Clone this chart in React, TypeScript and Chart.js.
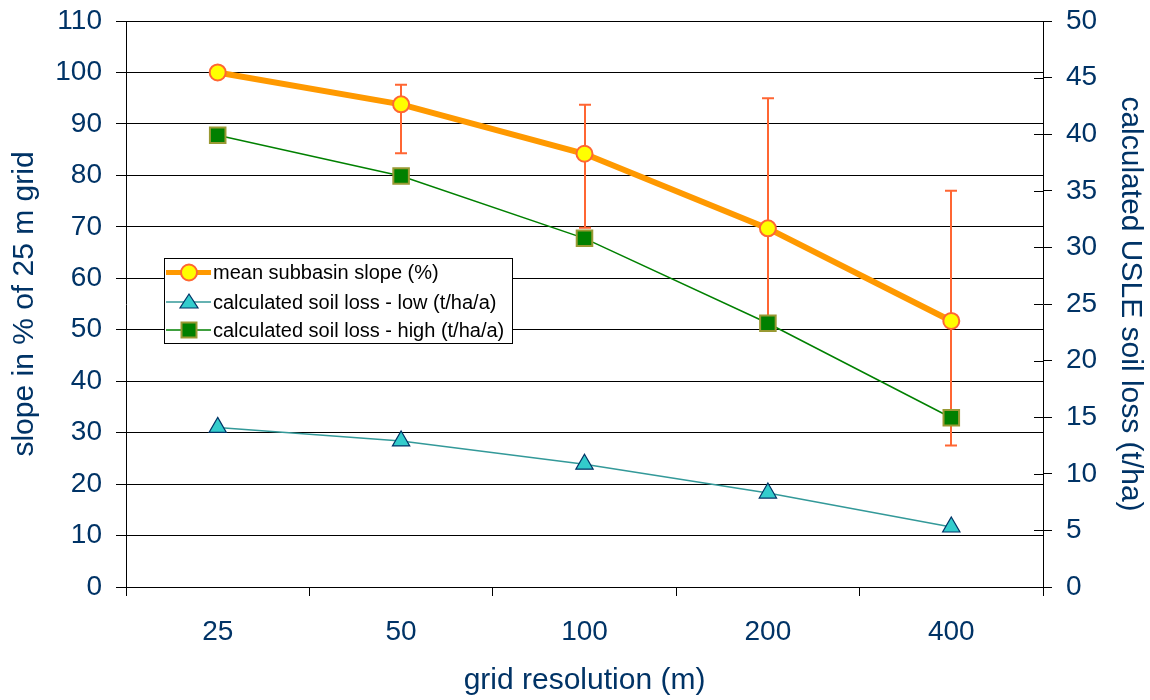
import React, { useEffect, useRef } from 'react';
import { Chart, registerables } from 'chart.js';

Chart.register(...registerables);

const categories = ['25', '50', '100', '200', '400'];
const meanSlope = [100, 93.8, 84.2, 69.7, 51.7];
const slopeErrUpper = [100, 97.6, 93.7, 95.0, 77.0];
const slopeErrLower = [100, 84.3, 69.8, 51.3, 27.5];
const soilLossLow = [14.1, 12.9, 10.85, 8.3, 5.3];
const soilLossHigh = [39.9, 36.3, 30.8, 23.3, 14.95];

const leftTicks = [0, 10, 20, 30, 40, 50, 60, 70, 80, 90, 100, 110];
const rightTicks = [0, 5, 10, 15, 20, 25, 30, 35, 40, 45, 50];

const TEXT = '#003366';
const FONT = 'Liberation Sans, Arial, sans-serif';

function drawCircle(ctx: any, x: number, y: number) {
  ctx.beginPath();
  ctx.arc(x, y, 8, 0, Math.PI * 2);
  ctx.fillStyle = '#FFFF00';
  ctx.fill();
  ctx.strokeStyle = '#FF6633';
  ctx.lineWidth = 2;
  ctx.stroke();
}
function drawTri(ctx: any, x: number, y: number) {
  ctx.beginPath();
  ctx.moveTo(x, y - 8);
  ctx.lineTo(x + 9, y + 6);
  ctx.lineTo(x - 9, y + 6);
  ctx.closePath();
  ctx.fillStyle = '#33CCCC';
  ctx.fill();
  ctx.strokeStyle = '#003366';
  ctx.lineWidth = 1.2;
  ctx.stroke();
}
function drawSq(ctx: any, x: number, y: number) {
  ctx.fillStyle = '#008000';
  ctx.fillRect(x - 7.5, y - 7.5, 15, 15);
  ctx.strokeStyle = '#999933';
  ctx.lineWidth = 2;
  ctx.strokeRect(x - 7.5, y - 7.5, 15, 15);
}

const errorBarPlugin = {
  id: 'errorBars',
  beforeDatasetsDraw(chart: any) {
    const ctx = chart.ctx;
    const x = chart.scales.x;
    const y = chart.scales.y;
    ctx.save();
    ctx.strokeStyle = '#FF6633';
    ctx.lineWidth = 2;
    for (let i = 0; i < categories.length; i++) {
      const up = slopeErrUpper[i];
      const lo = slopeErrLower[i];
      if (up === lo) continue;
      const px = Math.round(x.getPixelForValue(i));
      const yt = y.getPixelForValue(up);
      const yb = y.getPixelForValue(lo);
      ctx.beginPath();
      ctx.moveTo(px, yt);
      ctx.lineTo(px, yb);
      ctx.moveTo(px - 6, yt);
      ctx.lineTo(px + 6, yt);
      ctx.moveTo(px - 6, yb);
      ctx.lineTo(px + 6, yb);
      ctx.stroke();
    }
    ctx.restore();
  },
  afterDraw(chart: any) {
    const ctx = chart.ctx;
    const r = chart.scales.y1;
    ctx.save();
    ctx.strokeStyle = '#000';
    ctx.lineWidth = 1;
    for (const v of rightTicks) {
      const py = Math.round(r.getPixelForValue(v)) + 0.5;
      ctx.beginPath();
      ctx.moveTo(r.left - 9, py);
      ctx.lineTo(r.left, py);
      ctx.stroke();
    }
    // legend
    const bx = 164.5, by = 258.5, bw = 348, bh = 85;
    ctx.fillStyle = '#fff';
    ctx.fillRect(bx, by, bw, bh);
    ctx.strokeStyle = '#000';
    ctx.lineWidth = 1;
    ctx.strokeRect(bx, by, bw, bh);
    const rows = [272.5, 302, 330];
    const labels = chart.data.datasets.map((d: any) => d.label);
    const lineStyles = [
      ['#FF9900', 5],
      ['#339999', 1.5],
      ['#008000', 1.5],
    ];
    for (let i = 0; i < 3; i++) {
      ctx.strokeStyle = lineStyles[i][0];
      ctx.lineWidth = lineStyles[i][1];
      ctx.beginPath();
      ctx.moveTo(166, rows[i]);
      ctx.lineTo(211, rows[i]);
      ctx.stroke();
    }
    drawCircle(ctx, 189, rows[0]);
    drawTri(ctx, 189, rows[1]);
    drawSq(ctx, 189, rows[2]);
    ctx.font = '20px ' + FONT;
    ctx.textBaseline = 'middle';
    ctx.textAlign = 'left';
    ctx.fillStyle = '#000';
    for (let i = 0; i < 3; i++) {
      ctx.fillText(labels[i], 213, rows[i] + 1);
    }
    ctx.restore();
  },
};

export default function App() {
  const ref = useRef<HTMLCanvasElement>(null);
  useEffect(() => {
    if (!ref.current) return;
    const chart = new Chart(ref.current, {
      type: 'line',
      data: {
        labels: categories,
        datasets: [
          {
            label: 'mean subbasin slope (%)',
            data: meanSlope,
            yAxisID: 'y',
            borderColor: '#FF9900',
            borderWidth: 6,
            pointStyle: 'circle',
            pointRadius: 8,
            pointBackgroundColor: '#FFFF00',
            pointBorderColor: '#FF6633',
            pointBorderWidth: 2,
            tension: 0,
            order: 1,
          },
          {
            label: 'calculated soil loss - low (t/ha/a)',
            data: soilLossLow,
            yAxisID: 'y1',
            borderColor: '#339999',
            borderWidth: 1.5,
            pointStyle: 'triangle',
            pointRadius: 10,
            pointBackgroundColor: '#33CCCC',
            pointBorderColor: '#003366',
            pointBorderWidth: 1.2,
            tension: 0,
            order: 3,
          },
          {
            label: 'calculated soil loss - high (t/ha/a)',
            data: soilLossHigh,
            yAxisID: 'y1',
            borderColor: '#008000',
            borderWidth: 1.5,
            pointStyle: 'rect',
            pointRadius: 11,
            pointBackgroundColor: '#008000',
            pointBorderColor: '#999933',
            pointBorderWidth: 2,
            tension: 0,
            order: 2,
          },
        ],
      },
      options: {
        responsive: false,
        animation: false,
        clip: false as any,
        layout: { padding: { top: 21, left: 0, right: 0, bottom: 0 } },
        plugins: { legend: { display: false }, tooltip: { enabled: false } },
        scales: {
          x: {
            type: 'category',
            offset: true,
            grid: { offset: true, drawOnChartArea: false, tickLength: 9, color: '#000', lineWidth: 1 },
            border: { color: '#000', width: 1 },
            ticks: { color: TEXT, font: { family: FONT, size: 28 }, padding: 19 },
            title: {
              display: true,
              text: 'grid resolution (m)',
              color: TEXT,
              font: { family: FONT, size: 30 },
              padding: { top: 0, bottom: 1 },
            },
            afterFit: (s: any) => { s.height = 113; s.paddingLeft = 0; s.paddingRight = 0; },
          },
          y: {
            position: 'left',
            min: 0,
            max: 110,
            afterBuildTicks: (s: any) => { s.ticks = leftTicks.map((v) => ({ value: v })); },
            grid: { drawOnChartArea: true, tickLength: 10, color: '#000', lineWidth: 1 },
            border: { color: '#000', width: 1 },
            ticks: { color: TEXT, font: { family: FONT, size: 28 }, padding: 14 },
            title: {
              display: true,
              text: 'slope in % of 25 m grid',
              color: TEXT,
              font: { family: FONT, size: 30 },
              padding: { top: 7, bottom: 0 },
            },
            afterFit: (s: any) => { s.width = 126; s.paddingTop = 0; s.paddingBottom = 0; },
          },
          y1: {
            position: 'right',
            min: 0,
            max: 50,
            afterBuildTicks: (s: any) => { s.ticks = rightTicks.map((v) => ({ value: v })); },
            grid: { drawOnChartArea: false, tickLength: 9, color: '#000', lineWidth: 1 },
            border: { color: '#000', width: 1 },
            ticks: { color: TEXT, font: { family: FONT, size: 28 }, padding: 14 },
            title: {
              display: true,
              text: 'calculated USLE soil loss (t/ha)',
              color: TEXT,
              font: { family: FONT, size: 30 },
              padding: { top: 2, bottom: 0 },
            },
            afterFit: (s: any) => { s.width = 107; s.paddingTop = 0; s.paddingBottom = 0; },
          },
        },
      },
      plugins: [errorBarPlugin],
    });
    return () => chart.destroy();
  }, []);
  return (
    <canvas
      ref={ref}
      width={1150}
      height={700}
      style={{ position: 'absolute', left: 0, top: 0, display: 'block' }}
    />
  );
}
